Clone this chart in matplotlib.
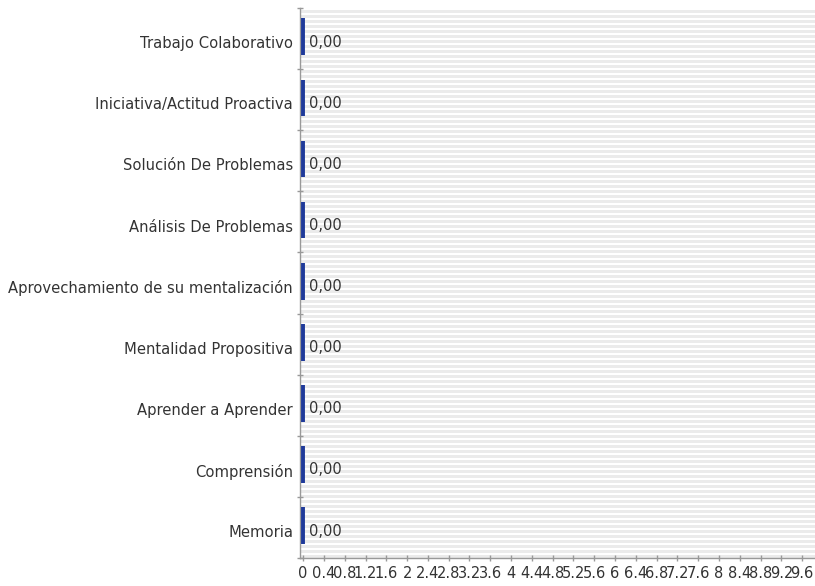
import matplotlib
matplotlib.use("Agg")
import matplotlib.pyplot as plt
import numpy as np

categorias = ["Memoria", "Comprensión", "Aprender a Aprender", "Mentalidad Propositiva",
              "Aprovechamiento de su mentalización", "Análisis De Problemas",
              "Solución De Problemas", "Iniciativa/Actitud Proactiva", "Trabajo Colaborativo"]
valores = [0.0, 0.0, 0.0, 0.0, 0.0, 0.0, 0.0, 0.0, 0.0]
x_ticks = np.arange(0, 9.61, 0.4)

W, H = 815, 586
fig = plt.figure(figsize=(W / 100, H / 100), dpi=100)
left, right, top, bottom = 300, 823, 8, 558
ax = fig.add_axes([left / W, (H - bottom) / H, (right - left) / W, (bottom - top) / H])

n = len(categorias)
ax.set_xlim(-0.06, 10)
ax.set_ylim(-0.5, n - 0.5)

# striped background (gray 3px, white 2px)
px = n / (bottom - top)
y0 = -0.5
while y0 < n - 0.5:
    ax.axhspan(y0, y0 + 3 * px, color="#ebebeb", lw=0, zorder=0)
    y0 += 5 * px

y = np.arange(n)
bars = ax.barh(y + 0.03, valores, height=0.6, color="#1f3a9a", edgecolor="#1f3a9a",
               linewidth=2.8, zorder=3)
for b in bars:
    b.set_clip_on(False)
for yi, v in zip(y, valores):
    ax.text(v + 0.12, yi - 0.06, f"{v:.2f}".replace(".", ","), va="center", ha="left",
            fontsize=10.5, color="#333333", zorder=4)

ax.set_yticks(y - 0.06)
ax.set_yticklabels(categorias, fontsize=10.6, color="#333333")
ax.tick_params(axis="y", length=0, pad=5)
ax.set_yticks(np.arange(-0.5, n, 1), minor=True)
ax.tick_params(axis="y", which="minor", length=4, direction="inout", color="#999999", width=1)

ax.set_xticks(x_ticks)
ax.set_xticklabels([f"{t:g}" for t in x_ticks], fontsize=10.5, color="#333333")
ax.tick_params(axis="x", length=4, direction="inout", color="#999999", width=1, pad=4)

for s in ["top", "right"]:
    ax.spines[s].set_visible(False)
for s in ["left", "bottom"]:
    ax.spines[s].set_color("#999999")
    ax.spines[s].set_linewidth(1)

fig.savefig("out.png", dpi=100)
